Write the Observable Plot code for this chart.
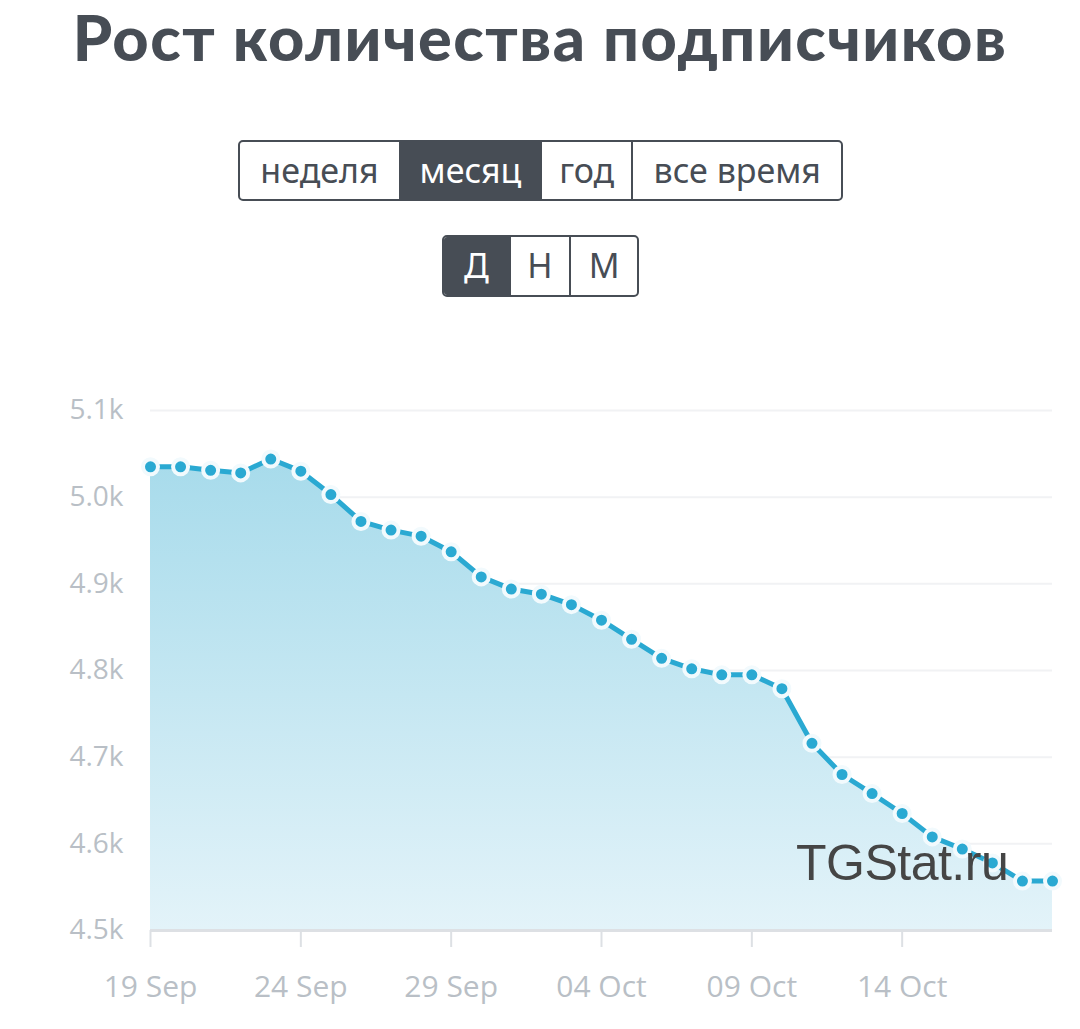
<!DOCTYPE html>
<html>
<head>
<meta charset="utf-8">
<script src="https://cdn.jsdelivr.net/npm/d3@7"></script>
<script src="https://cdn.jsdelivr.net/npm/@observablehq/plot@0.6"></script>
<style>
  html, body { margin: 0; padding: 0; background: #fff; }
  body { width: 1080px; height: 1029px; position: relative; overflow: hidden; font-family: "Noto Sans", sans-serif; }
  h1 { position: absolute; top: 0; left: 0; width: 1080px; margin: 0; text-align: center;
       font-family: Lato, "Noto Sans", sans-serif; font-weight: 900; font-size: 63px; line-height: 74px; color: #474d55; letter-spacing: 1.5px; }
  .seg { position: absolute; display: flex; border: 2px solid #474d55; border-radius: 5px; overflow: hidden; box-sizing: border-box; }
  .seg div { display: flex; align-items: center; justify-content: center; color: #474d55; font-size: 34px; box-sizing: border-box; padding-bottom: 2px; }
  .seg div + div { border-left: 2px solid #474d55; }
  .seg div.on { background: #474d55; color: #fff; }
  #chart { position: absolute; left: 0; top: 360px; }
  .wm { position: absolute; left: 796px; top: 834px; font-family: "Liberation Sans", sans-serif; font-size: 50px; color: #454545; letter-spacing: -0.5px; }
</style>
</head>
<body>
<h1>Рост количества подписчиков</h1>
<div class="seg" id="periods" style="left:238px; top:140px; height:61px; width:605px;"></div>
<div class="seg" id="groups" style="left:442px; top:235px; height:62px; width:197px;"></div>
<div id="chart"></div>
<div class="wm">TGStat.ru</div>
<script>
const periodLabels = ["неделя", "месяц", "год", "все время"];
const periodActive = "месяц";
const groupLabels = ["Д", "Н", "М"];
const groupActive = "Д";

const dates = [
  "2023-09-19","2023-09-20","2023-09-21","2023-09-22","2023-09-23","2023-09-24","2023-09-25",
  "2023-09-26","2023-09-27","2023-09-28","2023-09-29","2023-09-30","2023-10-01","2023-10-02",
  "2023-10-03","2023-10-04","2023-10-05","2023-10-06","2023-10-07","2023-10-08","2023-10-09",
  "2023-10-10","2023-10-11","2023-10-12","2023-10-13","2023-10-14","2023-10-15","2023-10-16",
  "2023-10-17","2023-10-18","2023-10-19"
];
const subscribers = [
  5035, 5035, 5031, 5028, 5044, 5030, 5003,
  4972, 4962, 4955, 4937, 4908, 4894, 4888,
  4876, 4858, 4836, 4814, 4802, 4795, 4795,
  4779, 4716, 4680, 4658, 4635, 4608, 4594,
  4578, 4557, 4557
];
const yTicks = [4500, 4600, 4700, 4800, 4900, 5000, 5100];
const xTicks = ["2023-09-19","2023-09-24","2023-09-29","2023-10-04","2023-10-09","2023-10-14"];

const widths = { "неделя": 160, "месяц": 142, "год": 92, "все время": 211 };
const gw = { "Д": 66, "Н": 62, "М": 69 };
const pEl = document.getElementById("periods");
periodLabels.forEach(l => { const d = document.createElement("div"); d.textContent = l; d.style.width = widths[l] + "px"; if (l === periodActive) d.className = "on"; pEl.appendChild(d); });
const gEl = document.getElementById("groups");
groupLabels.forEach(l => { const d = document.createElement("div"); d.textContent = l; d.style.width = gw[l] + "px"; if (l === groupActive) d.className = "on"; gEl.appendChild(d); });

const data = dates.map((d, i) => ({ date: new Date(d + "T00:00:00Z"), value: subscribers[i] }));
const base = yTicks[0];

const gradientDefs = () => {
  const ns = "http://www.w3.org/2000/svg";
  const defs = document.createElementNS(ns, "defs");
  const lg = document.createElementNS(ns, "linearGradient");
  lg.setAttribute("id", "areaGrad");
  lg.setAttribute("x1", "0"); lg.setAttribute("y1", "0"); lg.setAttribute("x2", "0"); lg.setAttribute("y2", "1");
  [["0%", "#a7dbeb"], ["100%", "#e3f3f9"]].forEach(([o, c]) => {
    const s = document.createElementNS(ns, "stop");
    s.setAttribute("offset", o); s.setAttribute("stop-color", c);
    lg.appendChild(s);
  });
  defs.appendChild(lg);
  return defs;
};

const chart = Plot.plot({
  width: 1080,
  height: 660,
  marginTop: 50,
  marginBottom: 90,
  marginLeft: 150,
  marginRight: 28,
  style: { fontFamily: "'Open Sans', 'Noto Sans', sans-serif", background: "transparent" },
  x: { type: "utc", domain: [data[0].date, data[data.length - 1].date] },
  y: { domain: [yTicks[0], yTicks[yTicks.length - 1]] },
  marks: [
    gradientDefs,
    Plot.ruleY(yTicks.slice(1), { stroke: "#f1f2f4", strokeWidth: 2 }),
    Plot.areaY(data, { x: "date", y1: base, y2: "value", fill: "url(#areaGrad)" }),
    Plot.ruleY([base], { stroke: "#dde0e4", strokeWidth: 3 }),
    Plot.axisY({ ticks: yTicks, tickSize: 0, tickPadding: 27, tickFormat: d => (d / 1000).toFixed(1) + "k",
                 fontSize: 28, fill: "#b9bfc6", label: null }),
    Plot.axisX({ ticks: xTicks.map(d => new Date(d + "T00:00:00Z")), tickSize: 17, stroke: "#dde0e4", strokeWidth: 2,
                 tickPadding: 28, tickFormat: d3.utcFormat("%d %b"), fontSize: 30, fill: "#b9bfc6", label: null }),
    Plot.line(data, { x: "date", y: "value", stroke: "#2aa9d2", strokeWidth: 5 }),
    Plot.dot(data, { x: "date", y: "value", r: 7.5, fill: "#2aa9d2", stroke: "#f2fafd", strokeWidth: 4 })
  ]
});
document.getElementById("chart").appendChild(chart);
</script>
</body>
</html>
